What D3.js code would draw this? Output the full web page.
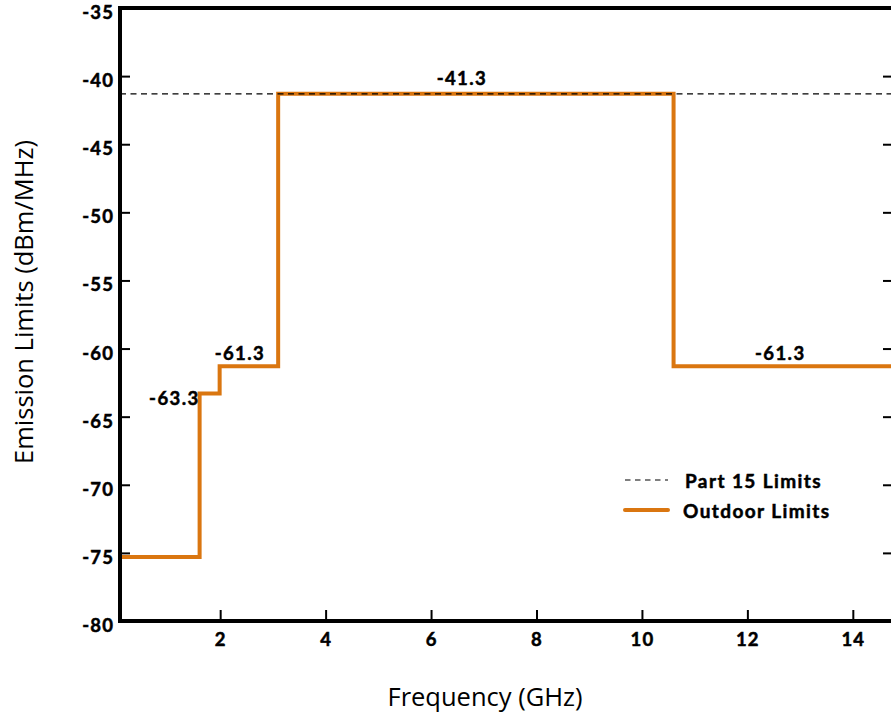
<!DOCTYPE html>
<html>
<head>
<meta charset="utf-8">
<script src="https://cdn.jsdelivr.net/npm/d3@7"></script>
<style>
  html, body { margin: 0; padding: 0; background: #fff; }
  svg { display: block; }
  .tick-label { font-family: Lato, "Open Sans", sans-serif; font-weight: 700; font-size: 18.5px; letter-spacing: 1.1px; fill: #000; stroke: #000; stroke-width: 0.5px; }
  .axis-title { font-family: "Open Sans", "Noto Sans", sans-serif; font-size: 25.5px; fill: #000; }
  .value-label { font-family: Lato, "Open Sans", sans-serif; font-weight: 700; font-size: 18.5px; letter-spacing: 1.4px; fill: #000; stroke: #000; stroke-width: 0.5px; }
  .legend-label { font-family: Lato, "Open Sans", sans-serif; font-weight: 700; font-size: 19px; letter-spacing: 1.4px; fill: #000; stroke: #000; stroke-width: 0.5px; }
</style>
</head>
<body>
<script>
// Band edges (GHz) and the outdoor emission limit in each band (dBm/MHz)
const bandEdges = [0.1, 1.61, 1.99, 3.1, 10.6, 14.8];
const outdoorLimits = [-75.3, -63.3, -61.3, -41.3, -61.3];
const part15Limit = -41.3;

// Labelled bands and their displayed values
const labelledBands = [1, 2, 3, 4];
const labelText = ["-63.3", "-61.3", "-41.3", "-61.3"];

// Axis ticks
const xTicks = [2, 4, 6, 8, 10, 12, 14];
const yTicks = [-80, -75, -70, -65, -60, -55, -50, -45, -40, -35];

const legendNames = ["Part 15 Limits", "Outdoor Limits"];

const W = 891, H = 713;
const plotL = 120, plotR = 895, plotT = 8, plotB = 621;
const orange = "#DA7610";

const svg = d3.select("body").append("svg").attr("width", W).attr("height", H);

const x = d3.scaleLinear().domain([bandEdges[0], bandEdges[bandEdges.length - 1]]).range([plotL, plotR]);
const y = d3.scaleLinear().domain([-80, -35]).range([plotB, plotT]);

// Step line through all bands
const stepPts = [];
outdoorLimits.forEach((v, i) => {
  stepPts.push([bandEdges[i], v]);
  stepPts.push([bandEdges[i + 1], v]);
});
svg.append("path")
  .attr("d", d3.line().x(d => x(d[0])).y(d => y(d[1]))(stepPts))
  .attr("fill", "none")
  .attr("stroke", orange)
  .attr("stroke-width", 4)
  .attr("stroke-linejoin", "miter");

// Part 15 reference line
svg.append("line")
  .attr("x1", x.range()[0]).attr("x2", x.range()[1])
  .attr("y1", y(part15Limit)).attr("y2", y(part15Limit))
  .attr("stroke", "#000").attr("stroke-width", 1.3)
  .attr("stroke-dasharray", "6,4.5");

// Axes: left with inward ticks, bottom with inward ticks, mirrored right ticks
const leftAxis = d3.axisRight(y).tickValues(yTicks).tickSize(10).tickFormat("");
const gl = svg.append("g").attr("transform", `translate(${plotL},0)`).call(leftAxis);
gl.select(".domain").remove();
gl.selectAll(".tick line").attr("stroke", "#000").attr("stroke-width", 2);

const rightAxis = d3.axisLeft(y).tickValues(yTicks.filter(v => v > -80 && v < -35)).tickSize(10).tickFormat("");
const gr = svg.append("g").attr("transform", `translate(${plotR - 2},0)`).call(rightAxis);
gr.select(".domain").remove();
gr.selectAll(".tick line").attr("stroke", "#000").attr("stroke-width", 2);

const bottomAxis = d3.axisTop(x).tickValues(xTicks).tickSize(11).tickFormat("");
const gb = svg.append("g").attr("transform", `translate(0,${plotB})`).call(bottomAxis);
gb.select(".domain").remove();
gb.selectAll(".tick line").attr("stroke", "#000").attr("stroke-width", 2);

// Frame
svg.append("rect")
  .attr("x", plotL).attr("y", plotT)
  .attr("width", plotR - plotL).attr("height", plotB - plotT)
  .attr("fill", "none").attr("stroke", "#000").attr("stroke-width", 4);

// Tick labels
svg.selectAll(".ylab").data(yTicks).join("text")
  .attr("class", "tick-label")
  .attr("x", 114).attr("y", d => y(d) + 4)
  .attr("text-anchor", "end").attr("dominant-baseline", "central")
  .text(d => d);

svg.selectAll(".xlab").data(xTicks).join("text")
  .attr("class", "tick-label")
  .attr("x", d => x(d) + 0.5).attr("y", plotB + 18)
  .attr("text-anchor", "middle").attr("dominant-baseline", "central")
  .text(d => d);

// Axis titles
svg.append("text").attr("class", "axis-title")
  .attr("x", 485).attr("y", 696)
  .attr("text-anchor", "middle").attr("dominant-baseline", "central")
  .text("Frequency (GHz)");

svg.append("text").attr("class", "axis-title")
  .attr("transform", "translate(23,302) rotate(-90)")
  .attr("text-anchor", "middle").attr("dominant-baseline", "central")
  .text("Emission Limits (dBm/MHz)");

// Band value labels
labelledBands.forEach((b, k) => {
  const v = outdoorLimits[b];
  const x0 = bandEdges[b], x1 = bandEdges[b + 1];
  const t = svg.append("text").attr("class", "value-label")
    .attr("dominant-baseline", "central").text(labelText[k]);
  if (k === 0) {
    t.attr("x", x(x0)).attr("y", y(v) + 4).attr("text-anchor", "end");
  } else if (k === 1) {
    t.attr("x", x((x0 + x1) / 2) - 9).attr("y", y(v) - 13).attr("text-anchor", "middle");
  } else if (k === 2) {
    t.attr("x", x((x0 + x1) / 2) - 14).attr("y", y(v) - 16).attr("text-anchor", "middle");
  } else {
    t.attr("x", x((x0 + x1) / 2) - 4).attr("y", y(v) - 13).attr("text-anchor", "middle");
  }
});

// Legend
const lg = svg.append("g").attr("transform", "translate(625,480)");
lg.append("line").attr("x1", 0).attr("x2", 43).attr("y1", 0).attr("y2", 0)
  .attr("stroke", "#000").attr("stroke-width", 1.2).attr("stroke-dasharray", "5.5,4.5");
lg.append("text").attr("class", "legend-label").attr("x", 60).attr("y", 0)
  .attr("dominant-baseline", "central").text(legendNames[0]);
lg.append("line").attr("x1", 0).attr("x2", 43).attr("y1", 30).attr("y2", 30)
  .attr("stroke", orange).attr("stroke-width", 4).attr("stroke-linecap", "round");
lg.append("text").attr("class", "legend-label").attr("x", 58).attr("y", 30)
  .attr("dominant-baseline", "central").text(legendNames[1]);
</script>
</body>
</html>
